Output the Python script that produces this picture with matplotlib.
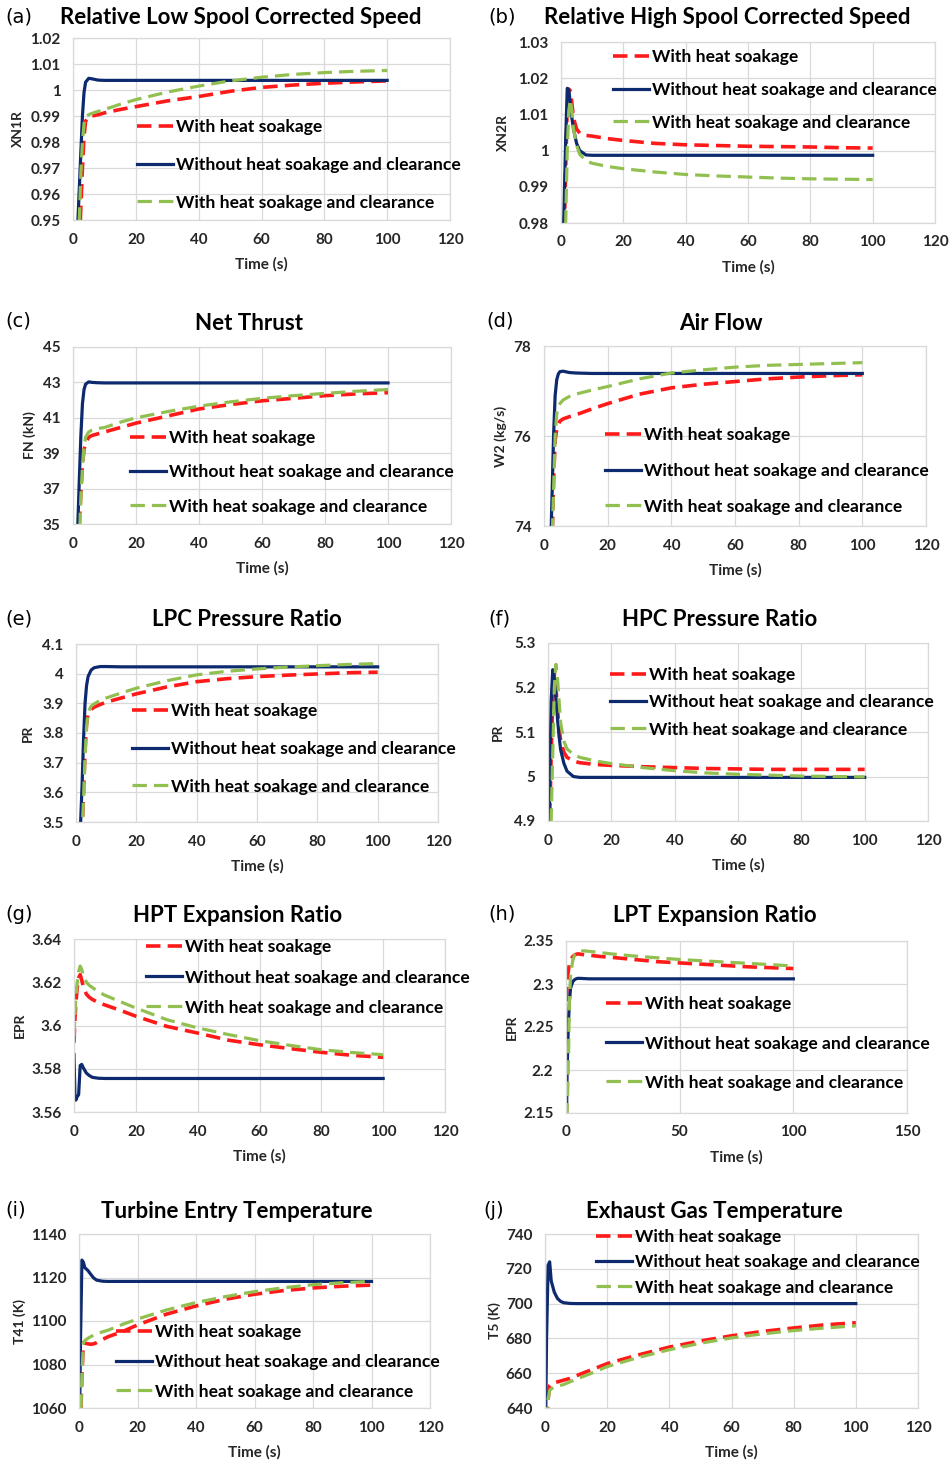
import matplotlib
matplotlib.use("Agg")
import matplotlib.pyplot as plt
from matplotlib.ticker import FuncFormatter

plt.rcParams['font.family'] = ['Lato', 'DejaVu Sans']

# --- data (time in s)
t_a = [1, 1.5, 2, 2.5, 3, 3.5, 4, 5, 6, 8, 10, 15, 20, 30, 40, 50, 60, 70, 80, 90, 100]
a_heat = [0.90, 0.92, 0.94, 0.955, 0.97, 0.982, 0.988, 0.9898, 0.990, 0.9905, 0.9912, 0.9925, 0.9936,
          0.9958, 0.9975, 0.9995, 1.001, 1.0019, 1.0026, 1.0031, 1.0035]
a_base = [0.90, 0.948, 0.962, 0.976, 0.99, 0.999, 1.003, 1.0045, 1.0043, 1.0038, 1.0037, 1.0037, 1.0037,
          1.0037, 1.0037, 1.0037, 1.0037, 1.0037, 1.0037, 1.0037, 1.0037]
a_clear = [0.90, 0.93, 0.95, 0.968, 0.98, 0.987, 0.9897, 0.9905, 0.991, 0.9918, 0.9925, 0.9945, 0.9963,
           0.9992, 1.0015, 1.0035, 1.0049, 1.006, 1.0067, 1.0072, 1.0075]

t_b = [0.5, 1, 1.5, 2, 2.5, 3, 3.5, 4, 5, 6, 8, 10, 15, 20, 30, 40, 50, 60, 70, 80, 90, 100]
b_heat = [0.96, 0.975, 0.995, 1.012, 1.017, 1.0165, 1.013, 1.009, 1.006, 1.0048, 1.0042, 1.004, 1.0033,
          1.0028, 1.002, 1.0016, 1.0014, 1.0012, 1.0011, 1.001, 1.0008, 1.0007]
b_base = [0.97, 0.985, 1.003, 1.0172, 1.0168, 1.013, 1.009, 1.006, 1.002, 1.0, 0.9988, 0.9987, 0.9987,
          0.9987, 0.9987, 0.9987, 0.9987, 0.9987, 0.9987, 0.9987, 0.9987, 0.9987]
b_clear = [0.95, 0.965, 0.98, 1.0, 1.011, 1.014, 1.011, 1.006, 1.0015, 0.999, 0.9972, 0.9965, 0.9956,
           0.995, 0.9941, 0.9934, 0.993, 0.9927, 0.9924, 0.9922, 0.9921, 0.992]

t_c = [1, 1.5, 2, 2.5, 3, 3.5, 4, 5, 6, 8, 10, 15, 20, 30, 40, 50, 60, 70, 80, 90, 100]
c_heat = [30, 32, 35, 36.8, 38.3, 39.2, 39.6, 39.9, 40.0, 40.1, 40.2, 40.45, 40.7, 41.1, 41.5, 41.75,
          41.96, 42.1, 42.25, 42.35, 42.42]
c_base = [32, 34.8, 37.5, 40, 41.8, 42.6, 42.9, 43.03, 43.0, 42.98, 42.97, 42.97, 42.97, 42.97, 42.97,
          42.97, 42.97, 42.97, 42.97, 42.97, 42.97]
c_clear = [30, 31.5, 34, 36.5, 38.2, 39.3, 39.9, 40.2, 40.3, 40.4, 40.45, 40.75, 41.0, 41.35, 41.66,
           41.9, 42.1, 42.25, 42.38, 42.5, 42.6]

t_d = [1.5, 2, 2.5, 3, 3.5, 4, 4.5, 5, 6, 8, 10, 15, 20, 30, 40, 50, 60, 70, 80, 90, 100]
d_heat = [71, 72, 73.5, 75.0, 75.9, 76.15, 76.25, 76.33, 76.38, 76.43, 76.47, 76.6, 76.72, 76.93, 77.07,
          77.15, 77.21, 77.27, 77.31, 77.34, 77.36]
d_base = [72, 73.3, 74.6, 76.0, 76.9, 77.25, 77.38, 77.43, 77.44, 77.41, 77.4, 77.39, 77.39, 77.39,
          77.39, 77.39, 77.39, 77.39, 77.39, 77.39, 77.39]
d_clear = [71, 72.3, 73.5, 74.8, 76.0, 76.5, 76.65, 76.72, 76.8, 76.88, 76.93, 77.02, 77.1, 77.27, 77.4,
           77.47, 77.53, 77.57, 77.59, 77.61, 77.63]

t_e = [1, 1.5, 2, 2.5, 3, 3.5, 4, 5, 6, 8, 10, 15, 20, 30, 40, 50, 60, 70, 80, 90, 100]
e_heat = [3.3, 3.38, 3.46, 3.6, 3.74, 3.83, 3.865, 3.88, 3.887, 3.896, 3.904, 3.918, 3.932, 3.955, 3.973,
          3.983, 3.99, 3.995, 3.999, 4.003, 4.005]
e_base = [3.4, 3.49, 3.62, 3.78, 3.9, 3.96, 3.99, 4.012, 4.02, 4.024, 4.024, 4.023, 4.023, 4.023, 4.023,
          4.023, 4.023, 4.023, 4.023, 4.023, 4.023]
e_clear = [3.3, 3.37, 3.46, 3.58, 3.72, 3.82, 3.87, 3.89, 3.898, 3.91, 3.918, 3.935, 3.951, 3.976, 3.996,
           4.008, 4.016, 4.022, 4.027, 4.031, 4.034]

t_f = [0.3, 0.7, 1, 1.5, 2, 2.5, 3, 3.5, 4, 5, 6, 8, 10, 15, 20, 30, 40, 50, 60, 70, 80, 90, 100]
f_heat = [4.86, 4.95, 5.05, 5.17, 5.23, 5.2, 5.15, 5.11, 5.08, 5.055, 5.043, 5.035, 5.031, 5.027, 5.025,
          5.022, 5.02, 5.018, 5.017, 5.016, 5.016, 5.016, 5.016]
f_base = [4.88, 5.05, 5.17, 5.24, 5.22, 5.18, 5.13, 5.09, 5.06, 5.03, 5.012, 5.0, 4.998, 4.998, 4.998,
          4.998, 4.998, 4.998, 4.998, 4.998, 4.998, 4.998, 4.998]
f_clear = [4.8, 4.85, 4.9, 5.05, 5.2, 5.252, 5.22, 5.17, 5.12, 5.08, 5.062, 5.05, 5.043, 5.035, 5.029,
           5.02, 5.013, 5.008, 5.005, 5.003, 5.001, 5.0, 4.999]

t_g = [0, 0.3, 0.6, 1, 1.5, 2, 2.5, 3, 4, 5, 6, 8, 10, 15, 20, 30, 40, 50, 60, 70, 80, 90, 100]
g_heat = [3.592, 3.603, 3.61, 3.617, 3.622, 3.6235, 3.621, 3.618, 3.6145, 3.613, 3.612, 3.6105, 3.6095,
          3.607, 3.6043, 3.5996, 3.5965, 3.5932, 3.5911, 3.5893, 3.5876, 3.5862, 3.5853]
g_base = [3.5865, 3.568, 3.5655, 3.567, 3.568, 3.5815, 3.582, 3.5805, 3.578, 3.5768, 3.576, 3.5756,
          3.5755, 3.5755, 3.5755, 3.5755, 3.5755, 3.5755, 3.5755, 3.5755, 3.5755, 3.5755, 3.5755]
g_clear = [3.595, 3.605, 3.613, 3.619, 3.625, 3.6275, 3.626, 3.623, 3.62, 3.6185, 3.6175, 3.6155, 3.614,
           3.611, 3.6081, 3.6027, 3.5989, 3.5958, 3.593, 3.5908, 3.5888, 3.5875, 3.5865]

t_h = [0.2, 0.5, 1, 1.5, 2, 3, 4, 5, 6, 8, 10, 15, 20, 30, 40, 50, 60, 70, 80, 90, 100]
h_heat = [2.28, 2.3, 2.315, 2.323, 2.328, 2.332, 2.334, 2.335, 2.3348, 2.334, 2.3335, 2.332, 2.331,
          2.3285, 2.326, 2.3245, 2.323, 2.3215, 2.32, 2.319, 2.318]
h_base = [2.14, 2.2, 2.25, 2.28, 2.295, 2.303, 2.3055, 2.3065, 2.3066, 2.3063, 2.306, 2.306, 2.306,
          2.306, 2.306, 2.306, 2.306, 2.306, 2.306, 2.306, 2.306]
h_clear = [2.12, 2.15, 2.2, 2.28, 2.31, 2.328, 2.335, 2.3375, 2.3385, 2.3385, 2.338, 2.3365, 2.335,
           2.3325, 2.3305, 2.3285, 2.327, 2.3255, 2.324, 2.3225, 2.321]

t_i = [0.2, 0.5, 1, 1.5, 2, 3, 4, 5, 6, 8, 10, 15, 20, 30, 40, 50, 60, 70, 80, 90, 100]
i_heat = [1040, 1050, 1075, 1090, 1089.8, 1089.5, 1089.3, 1089.5, 1090, 1091.5, 1092.8, 1095.2, 1098.2,
          1103.2, 1106.9, 1110, 1112.3, 1114, 1115.2, 1116, 1116.5]
i_base = [1055, 1090, 1128, 1127, 1124.5, 1123.3, 1121.5, 1119.8, 1118.8, 1118.3, 1118.2, 1118.2,
          1118.2, 1118.2, 1118.2, 1118.2, 1118.2, 1118.2, 1118.2, 1118.2, 1118.2]
i_clear = [1040, 1050, 1075, 1090, 1091, 1092, 1092.8, 1093.5, 1094, 1095, 1095.8, 1098.5, 1100.9,
           1105.1, 1108.5, 1111.2, 1113.5, 1115.3, 1116.7, 1117.6, 1118.2]

t_j = [0.2, 0.5, 1, 1.5, 2, 3, 4, 5, 6, 8, 10, 15, 20, 30, 40, 50, 60, 70, 80, 90, 100]
j_heat = [620, 630, 645, 653, 654, 654.5, 655, 655.5, 656, 657, 658.5, 662, 665.5, 670.5, 675, 678.5,
          681.5, 684, 686, 687.8, 689]
j_base = [630, 680, 722, 724, 713, 706.5, 703, 701.3, 700.5, 700.1, 700, 700, 700, 700, 700, 700, 700,
          700, 700, 700, 700]
j_clear = [620, 630, 645, 650, 651, 652, 652.5, 653, 653.5, 655, 656.5, 660, 663.8, 669, 673.5, 677.2,
           680.3, 682.6, 684.5, 686, 687.2]

labels = ['With heat soakage', 'Without heat soakage and clearance', 'With heat soakage and clearance']

titles = ['Relative Low Spool Corrected Speed', 'Relative High Spool Corrected Speed', 'Net Thrust',
          'Air Flow', 'LPC Pressure Ratio', 'HPC Pressure Ratio', 'HPT Expansion Ratio',
          'LPT Expansion Ratio', 'Turbine Entry Temperature', 'Exhaust Gas Temperature']
letters = ['(a)', '(b)', '(c)', '(d)', '(e)', '(f)', '(g)', '(h)', '(i)', '(j)']
ylabels = ['XN1R', 'XN2R', 'FN (kN)', 'W2 (kg/s)', 'PR', 'PR', 'EPR', 'EPR', 'T41 (K)', 'T5 (K)']
yranges = [(0.95, 1.02, 0.01), (0.98, 1.03, 0.01), (35, 45, 2), (74, 78, 2), (3.5, 4.1, 0.1),
           (4.9, 5.3, 0.1), (3.56, 3.64, 0.02), (2.15, 2.35, 0.05), (1060, 1140, 20), (640, 740, 20)]
xranges = [(0, 120, 20)] * 7 + [(0, 150, 50)] + [(0, 120, 20)] * 2

series = [(t_a, a_heat, a_base, a_clear), (t_b, b_heat, b_base, b_clear),
          (t_c, c_heat, c_base, c_clear), (t_d, d_heat, d_base, d_clear),
          (t_e, e_heat, e_base, e_clear), (t_f, f_heat, f_base, f_clear),
          (t_g, g_heat, g_base, g_clear), (t_h, h_heat, h_base, h_clear),
          (t_i, i_heat, i_base, i_clear), (t_j, j_heat, j_base, j_clear)]

# --- layout in pixels: plot box (left, top, right, bottom), title centre x/y, letter y,
#     ylabel offset, legend (x, first y, spacing)
W, H = 950, 1460
boxes = [(73, 38, 450, 220), (561, 42, 935, 223), (73, 347, 451, 524), (544, 346, 926, 526),
         (76, 644, 438, 822), (548, 643, 928, 821), (74, 939, 445, 1112), (566, 941, 907, 1113),
         (79, 1234, 430, 1408), (545, 1234, 918, 1408)]
title_pos = [(241, 18), (727, 17), (249, 323), (721, 323), (247, 620), (720, 620), (238, 916),
             (715, 916), (237, 1212), (714, 1212)]
letter_pos = [(5, 17), (488, 17), (5, 321), (486, 321), (5, 619), (488, 619), (5, 914), (488, 914),
              (5, 1210), (483, 1210)]
ylab_off = [55, 58, 43, 43, 48, 50, 54, 54, 59, 50]
leg_pos = [(137, 127, 38), (613, 57, 33), (130, 438, 34.5), (605, 435, 36), (132, 711, 38),
           (610, 675, 27.5), (146, 947, 30.5), (606, 1004, 39.5), (116, 1332, 30), (596, 1237, 25.5)]

RED = '#ff1a1a'
NAVY = '#0d2a6e'
GREEN = '#92c050'
GRID = '#d9d9d9'
LEG_FS = 12.6

fig = plt.figure(figsize=(W / 100, H / 100), dpi=100)

def fmt(v, pos):
    return '{:g}'.format(round(v, 4))

for k in range(10):
    l, tp, r, b = boxes[k]
    ax = fig.add_axes([l / W, 1 - b / H, (r - l) / W, (b - tp) / H])
    t, heat, base, clear = series[k]
    ax.plot(t, heat, color=RED, lw=2.6, dashes=(4, 2), label=labels[0])
    ax.plot(t, base, color=NAVY, lw=2.3, label=labels[1])
    ax.plot(t, clear, color=GREEN, lw=2.3, dashes=(4.5, 2.2), label=labels[2])

    y0, y1, ys = yranges[k]
    x0, x1, xs = xranges[k]
    ax.set_ylim(y0, y1)
    ax.set_xlim(x0, x1)
    n = int(round((y1 - y0) / ys))
    ax.set_yticks([y0 + i * ys for i in range(n + 1)])
    ax.set_xticks(range(x0, x1 + 1, xs))
    ax.yaxis.set_major_formatter(FuncFormatter(fmt))
    ax.grid(True, color=GRID, lw=0.9)
    ax.set_axisbelow(True)
    for s in ax.spines.values():
        s.set_color(GRID)
        s.set_linewidth(0.9)
    ax.tick_params(length=0, labelsize=11, pad=9, colors='#262626')
    for lab in ax.get_xticklabels() + ax.get_yticklabels():
        lab.set_fontweight('bold')

    fig.text((l + r) / 2 / W, 1 - (b + 44) / H, 'Time (s)', ha='center', va='center',
             fontsize=11, fontweight='bold', color='#262626')
    fig.text((l - ylab_off[k]) / W, 1 - (tp + b) / 2 / H, ylabels[k], ha='center', va='center',
             rotation=90, fontsize=10, fontweight='bold', color='#262626')
    tx, ty = title_pos[k]
    fig.text(tx / W, 1 - ty / H, titles[k], ha='center', va='center', fontsize=16,
             fontweight='bold', color='black')
    lx, ly = letter_pos[k]
    fig.text(lx / W, 1 - ly / H, letters[k], ha='left', va='center', fontsize=14,
             family='DejaVu Sans', color='black')

    gx, gy, gs = leg_pos[k]
    fs_px = LEG_FS * 100 / 72
    ax.legend(loc='center left', bbox_to_anchor=(gx / W, 1 - (gy + gs) / H),
              bbox_transform=fig.transFigure, frameon=False, borderpad=0, borderaxespad=0,
              handlelength=36 / fs_px, handletextpad=0.15,
              labelspacing=(gs - 0.94 * fs_px) / fs_px,
              prop={'size': LEG_FS, 'weight': 'bold'})

fig.savefig('out.png', dpi=100, facecolor='white')
